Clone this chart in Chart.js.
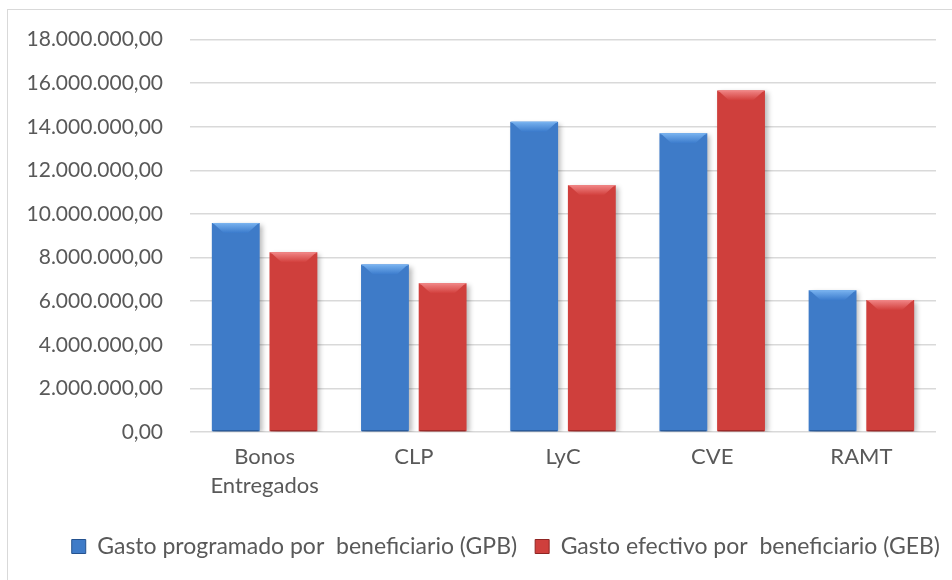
<!DOCTYPE html>
<html><head><meta charset="utf-8">
<script src="https://cdn.jsdelivr.net/npm/chart.js@4.4.1/dist/chart.umd.min.js"></script>
<style>
html,body{margin:0;padding:0;background:#fff;}
#wrap{position:relative;width:952px;height:580px;overflow:hidden;}
#frame{position:absolute;left:7px;top:9px;width:1000px;height:700px;border:1.5px solid #d9d9d9;box-sizing:border-box;}
canvas{position:absolute;left:0;top:0;}
</style></head>
<body><div id="wrap"><div id="frame"></div><canvas id="c" width="952" height="580"></canvas></div>
<script>
const categories = [["Bonos","Entregados"], "CLP", "LyC", "CVE", "RAMT"];
const gpbValues = [9590000, 7680000, 14230000, 13700000, 6500000];
const gebValues = [8240000, 6820000, 11320000, 15670000, 6050000];
const seriesNames = ["Gasto programado por  beneficiario (GPB)", "Gasto efectivo por  beneficiario (GEB)"];
const yTicks = [0, 2000000, 4000000, 6000000, 8000000, 10000000, 12000000, 14000000, 16000000, 18000000];

const palettes = [
  {main:'#3b7bcc', dark:'#24528f', light:'#78b2ef', solid:'#3e7bc8'},
  {main:'#d23f3c', dark:'#8f2523', light:'#f08585', solid:'#cf3f3c'}
];

function fmt(v){
  const s = Math.round(v).toString();
  const g = s.replace(/\B(?=(\d{3})+(?!\d))/g, '.');
  return g + ',00';
}

function barFill(ctx, p){
  const el = ctx.element;
  if(!el || !isFinite(el.x) || !isFinite(el.width)) return p.solid;
  const c = ctx.chart.ctx;
  const l = el.x - el.width/2, r = el.x + el.width/2;
  const g = c.createLinearGradient(l,0,r,0);
  g.addColorStop(0, p.dark);
  g.addColorStop(0.1, p.main);
  g.addColorStop(0.88, p.main);
  g.addColorStop(1, p.dark);
  return g;
}

const legendShift = {
  id:'legendShift',
  afterLayout(chart){
    if(chart.legend){ chart.legend.left += 22; chart.legend.right += 22; }
  }
};

const bevelPlugin = {
  id:'bevel',
  beforeDatasetsDraw(chart){
    const c = chart.ctx; c.save();
    c.shadowColor='rgba(0,0,0,0.28)'; c.shadowBlur=5; c.shadowOffsetX=3; c.shadowOffsetY=2;
  },
  afterDatasetsDraw(chart){
    const c = chart.ctx; c.restore();
    chart.data.datasets.forEach((ds,i)=>{
      const p = palettes[i];
      chart.getDatasetMeta(i).data.forEach(el=>{
        const l = el.x - el.width/2, r = el.x + el.width/2, t = el.y, b = 10;
        c.save();
        const g = c.createLinearGradient(0,t,0,t+b);
        g.addColorStop(0,p.light); g.addColorStop(1,p.main);
        c.fillStyle = g;
        c.beginPath(); c.moveTo(l+1,t); c.lineTo(r-1,t); c.lineTo(r-b-2,t+b); c.lineTo(l+b+2,t+b); c.closePath(); c.fill();
        c.strokeStyle = p.light; c.lineWidth=1;
        c.beginPath(); c.moveTo(l+1,t+0.5); c.lineTo(r-1,t+0.5); c.stroke();
        c.strokeStyle = p.dark; c.lineWidth=1;
        c.beginPath(); c.moveTo(l+1,el.base-0.5); c.lineTo(r-1,el.base-0.5); c.stroke();
        c.restore();
      });
    });
  }
};

new Chart(document.getElementById('c'), {
  type:'bar',
  data:{
    labels: categories,
    datasets:[
      {label: seriesNames[0], data: gpbValues, backgroundColor: ctx=>barFill(ctx,palettes[0]), borderWidth:0},
      {label: seriesNames[1], data: gebValues, backgroundColor: ctx=>barFill(ctx,palettes[1]), borderWidth:0}
    ]
  },
  options:{
    responsive:false, animation:false,
    layout:{padding:{left:0,right:16,top:22,bottom:12}},
    datasets:{bar:{categoryPercentage:0.773, barPercentage:0.83}},
    plugins:{
      legend:{position:'bottom', align:'end', labels:{
        font:{family:'Lato', size:23}, color:'#595959', boxWidth:14, boxHeight:14, padding:18,
        generateLabels(chart){
          return chart.data.datasets.map((ds,i)=>({text:ds.label, fillStyle:palettes[i].solid, strokeStyle:palettes[i].dark, lineWidth:1, datasetIndex:i, fontColor:'#595959'}));
        }
      }},
      tooltip:{enabled:false}
    },
    scales:{
      x:{
        grid:{display:false}, border:{display:false},
        ticks:{font:{family:'Lato', size:22, lineHeight:1.32}, color:'#595959', padding:2},
        afterFit(s){ s.height = 85; }
      },
      y:{
        min:0, max:18000000,
        afterBuildTicks(s){ s.ticks = yTicks.map(v=>({value:v})); },
        grid:{color:'#d9d9d9', lineWidth:1.5, drawTicks:false},
        border:{display:false},
        ticks:{font:{family:'Lato', size:21}, color:'#595959', padding:27, callback:v=>fmt(v)},
        afterFit(s){ s.width = 190; }
      }
    }
  },
  plugins:[bevelPlugin, legendShift]
});
</script></body></html>
